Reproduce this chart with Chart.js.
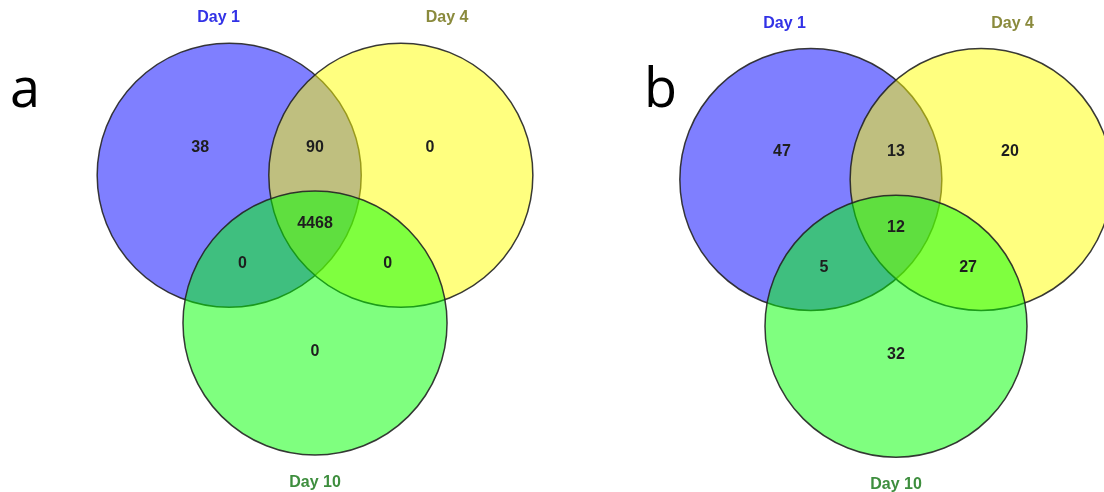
<!DOCTYPE html>
<html>
<head>
<meta charset="utf-8">
<script src="https://cdn.jsdelivr.net/npm/chart.js@4.4.1/dist/chart.umd.min.js"></script>
<style>
  html, body { margin: 0; padding: 0; background: #fff; }
  #wrap { position: relative; width: 1104px; height: 492px; overflow: hidden; }
  .panel { position: absolute; top: 0; width: 552px; height: 492px; }
</style>
</head>
<body>
<div id="wrap">
  <div class="panel" style="left:0"><canvas id="vennA" width="552" height="492"></canvas></div>
  <div class="panel" style="left:552px"><canvas id="vennB" width="552" height="492"></canvas></div>
</div>
<script>
// sets and counts per region
var setNames = ["Day 1", "Day 4", "Day 10"];
// region order: only 1, only 4, only 10, 1&4, 1&10, 4&10, 1&4&10
var regionNames = ["1", "4", "10", "1+4", "1+10", "4+10", "1+4+10"];
var countsA = [38, 0, 0, 90, 0, 0, 4468];
var countsB = [47, 20, 32, 13, 5, 27, 12];

// venn geometry in circle-radius units (radius = 1)
var circleCenters = [[-0.65, 0.37], [0.65, 0.37], [0, -0.75]];
var regionAnchors = [[-0.87, 0.58], [0.87, 0.58], [0, -0.97], [0, 0.58], [-0.55, -0.3], [0.55, -0.3], [0, 0]];

var fills = ["rgba(0, 0, 255, 0.5)", "rgba(255, 255, 0, 0.5)", "rgba(0, 255, 0, 0.5)"];
var nameColors = ["#3232e6", "#8a8a3c", "#3e8e3e"];

// radius of one venn unit in pixels
function unitRadius(ctx) {
  var s = ctx.chart.scales.x;
  return Math.abs(s.getPixelForValue(1) - s.getPixelForValue(0));
}

var vennLabels = {
  id: "vennLabels",
  afterDatasetsDraw: function (chart, args, opts) {
    var ctx = chart.ctx;
    var sx = chart.scales.x;
    var sy = chart.scales.y;
    ctx.save();
    ctx.textAlign = "center";
    ctx.textBaseline = "middle";
    ctx.font = "bold 16px 'Liberation Sans', Arial, sans-serif";
    ctx.fillStyle = "#1e1e1e";
    opts.counts.forEach(function (n, i) {
      ctx.fillText(String(n), sx.getPixelForValue(regionAnchors[i][0]), sy.getPixelForValue(regionAnchors[i][1]));
    });
    setNames.forEach(function (name, i) {
      ctx.fillStyle = nameColors[i];
      ctx.fillText(name, sx.getPixelForValue(opts.names[i][0]), sy.getPixelForValue(opts.names[i][1]));
    });
    // panel letter
    ctx.textAlign = "left";
    ctx.textBaseline = "alphabetic";
    ctx.fillStyle = "#000";
    ctx.font = "54px 'Open Sans', sans-serif";
    ctx.fillText(opts.letter, opts.letterX, 107);
    ctx.restore();
  },
};

function makeVenn(id, counts, view) {
  return new Chart(document.getElementById(id), {
    type: "scatter",
    data: {
      datasets: setNames.map(function (name, i) {
        return {
          label: name,
          data: [{ x: circleCenters[i][0], y: circleCenters[i][1] }],
          pointRadius: unitRadius,
          pointHoverRadius: unitRadius,
          pointBackgroundColor: fills[i],
          pointBorderColor: "rgba(35, 35, 35, 0.9)",
          pointBorderWidth: 1.5,
          order: 3 - i, // Day 1 at the bottom, Day 10 on top
        };
      }),
    },
    options: {
      responsive: false,
      animation: false,
      events: [],
      layout: { padding: 0, autoPadding: false },
      plugins: {
        legend: { display: false },
        tooltip: { enabled: false },
        vennLabels: { counts: counts, letter: view.letter, letterX: view.letterX, names: view.names },
      },
      scales: {
        x: { type: "linear", display: false, min: view.xMin, max: view.xMax },
        y: { type: "linear", display: false, min: view.yMin, max: view.yMax },
      },
    },
    plugins: [vennLabels],
  });
}

makeVenn("vennA", countsA, {
  letter: "a", letterX: 10,
  names: [[-0.73, 1.56], [1.0, 1.56], [0, -1.96]],
  xMin: -2.386, xMax: 1.795, yMin: -2.03, yMax: 1.697,
});
makeVenn("vennB", countsB, {
  letter: "b", letterX: 92,
  names: [[-0.85, 1.56], [0.89, 1.56], [0, -1.96]],
  xMin: -2.626, xMax: 1.588, yMin: -2.015, yMax: 1.74,
});
</script>
</body>
</html>
